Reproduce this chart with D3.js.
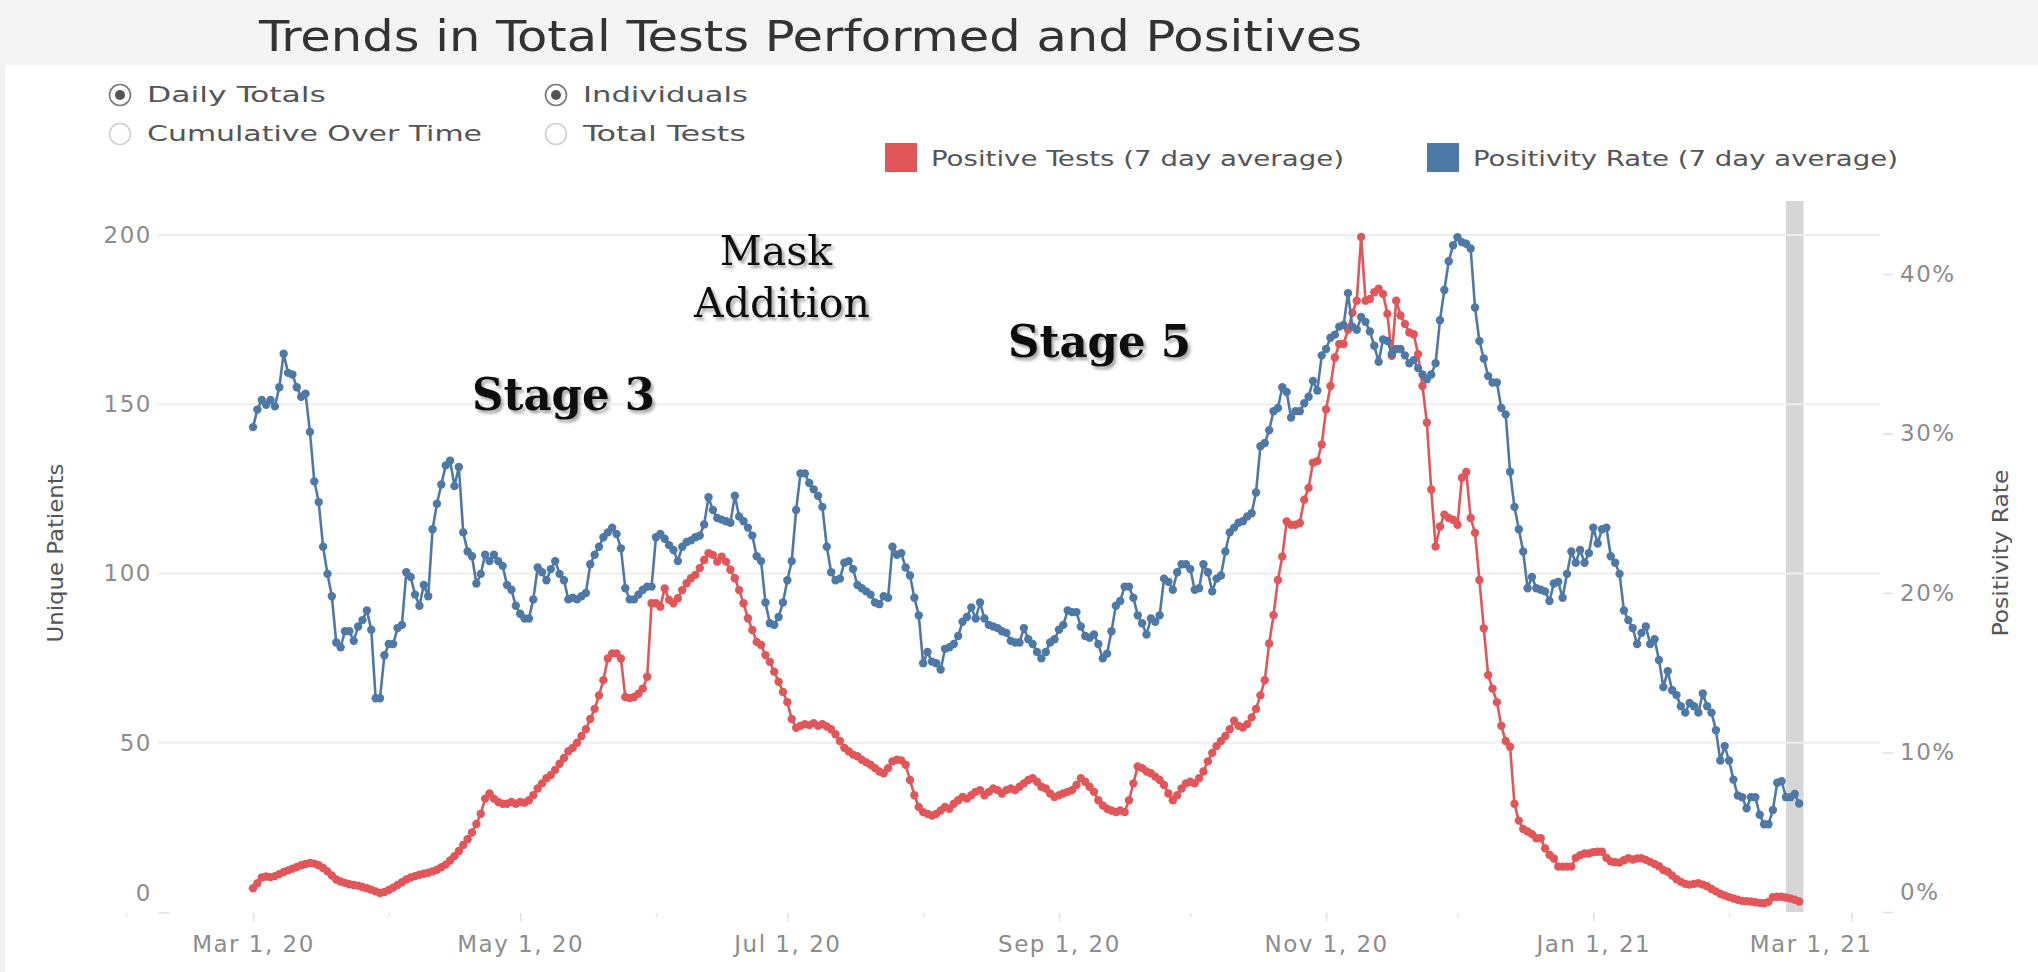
<!DOCTYPE html>
<html>
<head>
<meta charset="utf-8">
<script src="https://cdn.jsdelivr.net/npm/d3@7"></script>
<style>
  body { margin: 0; background: #fff; }
  svg { display: block; }
</style>
</head>
<body>
<div class="chart"></div>
<script>
var svgWidth = 2038;
var svgHeight = 972;

// ---- data ----
var chartTitle = "Trends in Total Tests Performed and Positives";
var startDate = "2020-03-01";

// Positive Tests (7 day average), unique patients per day
var positiveTests = [
  7.0, 8.5, 10.2, 10.5, 10.3, 10.6, 11.2, 11.8, 12.3, 12.8, 13.3, 13.8, 14.2, 14.5, 14.3, 13.8, 13.0, 12.0, 10.8, 9.6,
  9.0, 8.6, 8.2, 8.0, 7.8, 7.4, 7.0, 6.6, 6.1, 5.6, 5.9, 6.5, 7.2, 8.0, 8.8, 9.6,
  10.2, 10.6, 11.0, 11.3, 11.6, 12.0, 12.5, 13.2, 14.0, 15.2, 16.5, 18.0, 19.8, 21.5, 23.5, 26.0, 29.0, 33.5, 35.0, 33.5,
  32.5, 32.0, 32.0, 32.5, 32.0, 32.5, 32.3, 33.0, 34.5, 36.5, 38.0, 39.5, 40.5, 42.0, 43.8, 45.5, 47.5, 48.5, 50.0, 52.0,
  54.0, 57.0, 60.0, 64.0,
  68.5, 74.9, 76.4, 76.4, 74.9, 63.5, 63.2, 63.5, 64.5, 66.0, 69.5,
  91.2, 91.2, 90.2, 95.6, 92.2, 91.2, 92.7, 95.1, 97.1, 98.6, 99.6, 101.6, 104.0, 106.0, 105.5, 103.5, 105.0, 103.5, 101.1, 98.6,
  95.1, 91.2, 86.8, 83.3, 79.8, 78.9, 75.9, 73.9, 71.0, 68.0,
  65.0, 62.0, 57.0, 54.4, 55.0, 55.5, 55.2, 55.8, 55.0, 55.5, 54.8, 54.0, 52.5, 50.5, 48.5, 47.5, 46.5, 46.0, 45.0, 44.2,
  43.5, 42.5, 41.5, 41.0, 42.5, 44.5, 45.0, 44.8, 43.5, 39.0, 34.5, 31.0, 29.5, 29.0, 28.5, 29.0, 30.0, 31.0, 30.5, 32.0,
  33.0, 34.0, 33.5, 34.5, 35.5, 36.0, 34.5, 35.5, 36.5, 36.0, 35.0, 36.0, 36.5, 36.0, 37.0, 38.0, 39.0, 39.5, 38.5, 37.0,
  36.5, 35.0, 34.0, 34.5, 35.0, 35.5, 36.0, 37.5, 39.5, 38.5, 37.0, 35.5, 33.0, 31.5, 30.5, 30.0, 29.5, 30.0, 29.5, 33.0,
  38.0, 43.0, 42.5, 41.5, 41.0, 40.0, 39.0, 37.5, 35.0, 33.0, 34.5, 36.5, 38.0, 38.5, 38.0, 39.5, 41.5, 44.5, 47.0, 49.0,
  50.5, 52.0, 54.0, 56.5, 55.0, 54.5, 55.5, 57.5, 60.0, 64.0,
  68.5, 79.3, 87.7, 98.1, 105.0, 115.4, 114.4, 114.4, 114.9, 121.8, 125.3, 132.7, 133.2, 138.1, 148.5, 155.4, 163.8, 167.8, 167.8, 172.0,
  177.0, 180.6, 199.4, 180.6, 181.1, 183.1, 184.1, 182.6, 176.7, 164.3, 180.6, 176.2, 173.7, 171.2, 170.7, 164.8, 155.4, 144.6, 124.8, 108.0,
  113.9, 117.4, 116.4, 115.9, 114.4, 128.3, 130.0, 116.4, 112.0, 98.1, 83.8, 70.0,
  66.0, 62.0, 55.0, 50.5, 48.8, 32.0, 27.0, 24.5, 23.8, 23.0, 21.8, 21.8, 18.8, 16.9, 15.8, 13.4, 13.4, 13.4, 13.4, 16.0,
  16.8, 17.3, 17.3, 17.7, 17.8, 17.8, 16.0, 14.9, 14.7, 14.6, 15.3, 15.9, 15.5, 15.8, 15.9, 15.4, 14.8, 14.2, 13.5, 12.4,
  11.9, 10.8, 9.7, 8.9, 8.3, 8.1, 8.3, 8.5, 8.1, 7.6, 6.8, 6.1, 5.4, 4.9, 4.4, 4.0, 3.6, 3.3, 3.2, 3.1,
  2.9, 2.7, 2.6, 3.0, 4.4, 4.5, 4.5, 4.3, 4.0, 3.6, 3.1
];

// Positivity Rate (7 day average), percent
var positivityRate = [
  30.4, 31.5, 32.1, 31.8, 32.1, 31.7, 32.9, 35.0, 33.8, 33.7, 32.9, 32.3, 32.5, 30.1, 27.0, 25.7, 22.9, 21.2, 19.8, 16.9,
  16.6, 17.6, 17.6, 17.0, 17.9, 18.3, 18.9, 17.7, 13.4, 13.4, 16.1, 16.8, 16.8, 17.8, 18.0, 21.3, 21.0, 19.9, 19.2, 20.5,
  19.8, 24.0, 25.6, 26.8, 28.0, 28.3, 26.7, 27.9, 23.8, 22.6, 22.3, 20.6, 21.2, 22.4, 22.0, 22.4, 22.0, 21.7, 20.5, 20.2,
  19.2, 18.7, 18.4, 18.4, 19.6, 21.6, 21.3, 20.8, 21.5, 22.0, 21.2, 20.8, 19.6, 19.7, 19.6, 19.8, 20.0, 21.8, 22.4, 22.9,
  23.5, 23.8, 24.1, 23.7, 22.8, 20.3, 19.6, 19.6, 19.9, 20.2, 20.4, 20.4, 23.5, 23.7, 23.4, 23.0, 22.7, 22.0, 22.9, 23.2,
  23.3, 23.5, 23.6, 24.3, 26.0, 25.2, 24.7, 24.6, 24.5, 24.4, 26.1, 24.8, 24.5, 24.1, 23.6, 22.3, 22.0, 19.4, 18.1, 18.0,
  18.5, 19.4, 20.8, 22.0, 25.2, 27.5, 27.5, 26.9, 26.5, 26.1, 25.4, 22.9, 21.3, 20.8, 20.9, 21.9, 22.0, 21.5, 20.5, 20.3,
  20.1, 19.9, 19.4, 19.3, 19.8, 19.7,
  22.9, 22.4, 22.5, 21.6, 21.1, 19.7, 18.6, 15.6, 16.3, 15.7, 15.6, 15.2, 16.5, 16.6, 16.8, 17.3, 18.2, 18.5, 19.1, 18.4,
  19.4, 18.4, 18.0, 17.9, 17.8, 17.6, 17.5, 17.0, 16.9, 16.9, 17.8, 17.1, 16.8, 16.3, 15.9, 16.3, 16.9, 17.1, 17.7, 18.0,
  18.9, 18.8, 18.8, 17.9, 17.3, 17.2, 17.4, 16.8, 15.9, 16.2, 17.6, 19.2, 19.5, 20.4, 20.4, 19.7, 18.6, 18.1, 17.4, 18.4,
  18.2, 18.6, 20.9, 20.7, 20.2, 21.3, 21.8, 21.8, 21.5, 20.2, 20.3, 21.8, 21.3, 20.1, 20.9, 21.1, 22.6, 23.8, 24.1, 24.4,
  24.5, 24.8, 25.0, 26.3, 29.2, 29.4, 30.2, 31.4, 31.6, 32.9, 32.6, 31.0, 31.4, 31.4, 31.9, 32.3, 33.3, 32.7, 34.9, 35.3,
  36.0, 36.2, 36.7, 36.8, 38.8, 36.7, 36.5, 37.3, 37.0, 36.4, 35.5, 34.5, 35.9, 35.8, 35.0, 35.3, 35.3, 34.9, 34.4, 34.6,
  34.1, 33.7, 33.4, 33.7, 34.4, 37.1, 39.0, 40.8, 41.8, 42.3, 42.0, 41.9, 41.6, 37.9, 35.8, 34.7, 33.6, 33.2, 33.2, 31.6,
  31.2, 27.6, 25.4,
  24.0, 22.6, 20.3, 21.0, 20.3, 20.2, 20.1, 19.5, 20.6, 20.7, 19.7, 21.2, 22.6, 21.9, 22.7, 21.9, 22.5, 24.1, 23.1, 24.0,
  24.1, 22.3, 21.9, 21.2, 18.9, 18.3, 17.8, 16.8, 17.5, 17.9, 16.8, 17.1, 15.8, 14.1, 15.1, 13.9, 13.6, 12.9, 12.5, 13.1,
  12.9, 12.5, 13.7, 12.9, 12.5, 11.4, 9.5, 10.4, 9.5, 8.3, 7.3, 7.2, 6.5, 7.2, 7.2, 6.1, 5.5, 5.5, 6.4, 8.1,
  8.2, 7.2, 7.2, 7.4, 6.8
];

var leftTicks = [0, 50, 100, 150, 200];
var rightTicks = [0, 10, 20, 30, 40];
var xTickDates = ["2020-03-01", "2020-05-01", "2020-07-01", "2020-09-01", "2020-11-01", "2021-01-01", "2021-03-01"];
var shadedDates = ["2021-02-14", "2021-02-18"];
var legendLabels = ["Positive Tests (7 day average)", "Positivity Rate (7 day average)"];
var radioLabels = [["Daily Totals", "Cumulative Over Time"], ["Individuals", "Total Tests"]];
var radioChecked = [0, 0];
var leftAxisTitle = "Unique Patients";
var rightAxisTitle = "Positivity Rate";

// ---- layout ----
var pane = { left: 158, right: 1880, top: 201, bottom: 912 };
var red = "#e15759";
var blue = "#4e79a7";
var narrow = "'Liberation Sans Narrow','DejaVu Sans Condensed','Open Sans',sans-serif";
var axisFont = "'DejaVu Sans',Verdana,sans-serif";
var serif = "'DejaVu Serif',serif";

var parseDate = d3.utcParse("%Y-%m-%d");
var start = parseDate(startDate);
var dates = positiveTests.map(function(d, i) { return d3.utcDay.offset(start, i); });

var svg = d3.select(".chart")
  .append("svg")
  .attr("width", svgWidth)
  .attr("height", svgHeight);

var defs = svg.append("defs");
defs.append("filter")
  .attr("id", "shadow")
  .attr("x", "-10%").attr("y", "-20%")
  .attr("width", "130%").attr("height", "160%")
  .append("feDropShadow")
  .attr("dx", 2.5).attr("dy", 3)
  .attr("stdDeviation", 1.8)
  .attr("flood-color", "#000")
  .attr("flood-opacity", 0.35);

// title band and left margin strip
svg.append("rect").attr("x", 0).attr("y", 0).attr("width", svgWidth).attr("height", 65).attr("fill", "#f4f4f4");
svg.append("rect").attr("x", 0).attr("y", 65).attr("width", 5).attr("height", svgHeight - 65).attr("fill", "#f2f2f2");

svg.append("text")
  .attr("x", 259).attr("y", 51)
  .attr("font-family", narrow).attr("font-size", 42)
  .attr("fill", "#333")
  .attr("textLength", 1103).attr("lengthAdjust", "spacingAndGlyphs")
  .text(chartTitle);

// radio buttons
var radioX = [120, 556];
var radioY = [95, 134];
var radioTextLen = [[179, 335], [165, 163]];
radioLabels.forEach(function(group, g) {
  group.forEach(function(label, k) {
    var on = radioChecked[g] === k;
    svg.append("circle")
      .attr("cx", radioX[g]).attr("cy", radioY[k]).attr("r", 10.5)
      .attr("fill", "#fff")
      .attr("stroke", on ? "#777" : "#d0d0d0").attr("stroke-width", 1.6);
    if (on) {
      svg.append("circle")
        .attr("cx", radioX[g]).attr("cy", radioY[k]).attr("r", 5)
        .attr("fill", "#555");
    }
    svg.append("text")
      .attr("x", radioX[g] + 27).attr("y", radioY[k] + 7)
      .attr("font-family", narrow).attr("font-size", 22)
      .attr("fill", "#555")
      .attr("textLength", radioTextLen[g][k]).attr("lengthAdjust", "spacingAndGlyphs")
      .text(label);
  });
});

// legend
var legendX = [885, 1427];
var legendLen = [413, 425];
[red, blue].forEach(function(c, i) {
  svg.append("rect")
    .attr("x", legendX[i]).attr("y", 143)
    .attr("width", 32).attr("height", 29)
    .attr("fill", c);
  svg.append("text")
    .attr("x", legendX[i] + 46).attr("y", 166)
    .attr("font-family", narrow).attr("font-size", 22)
    .attr("fill", "#555")
    .attr("textLength", legendLen[i]).attr("lengthAdjust", "spacingAndGlyphs")
    .text(legendLabels[i]);
});

// scales
var x = d3.scaleUtc()
  .domain([parseDate("2020-03-01"), parseDate("2021-03-01")])
  .range([253, 1851.7]);

var yLeft = d3.scaleLinear().domain([0, 200]).range([pane.bottom, 235]);
var yRight = d3.scaleLinear().domain([0, 40]).range([pane.bottom, 274]);

// shaded most-recent band
svg.append("rect")
  .attr("x", x(parseDate(shadedDates[0])))
  .attr("y", pane.top)
  .attr("width", x(parseDate(shadedDates[1])) - x(parseDate(shadedDates[0])))
  .attr("height", pane.bottom - pane.top)
  .attr("fill", "#d6d6d6");

// gridlines
svg.append("g")
  .selectAll("line")
  .data(leftTicks.filter(function(d) { return d > 0; }))
  .enter().append("line")
  .attr("x1", pane.left).attr("x2", pane.right)
  .attr("y1", function(d) { return yLeft(d); })
  .attr("y2", function(d) { return yLeft(d); })
  .attr("stroke", "#eeeeee").attr("stroke-width", 2);

svg.append("line")
  .attr("x1", pane.left).attr("x2", pane.left + 12)
  .attr("y1", pane.bottom + 1).attr("y2", pane.bottom + 1)
  .attr("stroke", "#e2e2e2").attr("stroke-width", 1.5);

// left axis
var leftAxis = svg.append("g")
  .attr("transform", "translate(" + pane.left + ",0)")
  .call(d3.axisLeft(yLeft).tickValues(leftTicks).tickSize(0).tickPadding(6));
leftAxis.select(".domain").remove();
leftAxis.selectAll("text")
  .attr("font-family", axisFont).attr("font-size", 23)
  .attr("letter-spacing", 1.5)
  .attr("fill", "#8c8c8c")
  .attr("y", function(d) { return d === 0 ? -19 : 0; });

// right axis
var rightAxis = svg.append("g")
  .attr("transform", "translate(1883,0)")
  .call(d3.axisRight(yRight).tickValues(rightTicks).tickSize(10).tickPadding(7)
    .tickFormat(function(d) { return d + "%"; }));
rightAxis.select(".domain").remove();
rightAxis.selectAll("line").attr("stroke", "#e2e2e2").attr("stroke-width", 1.5);
rightAxis.selectAll("text")
  .attr("font-family", axisFont).attr("font-size", 23)
  .attr("letter-spacing", 1.5)
  .attr("fill", "#8c8c8c")
  .attr("y", function(d) { return d === 0 ? -20 : 0; });

// bottom axis: monthly minor ticks, labelled every two months
var minorAxis = svg.append("g")
  .attr("transform", "translate(0," + (pane.bottom + 1) + ")")
  .call(d3.axisBottom(x)
    .tickValues(d3.utcMonth.range(parseDate("2020-02-01"), parseDate("2021-03-02")))
    .tickSize(4).tickFormat(""));
minorAxis.select(".domain").remove();
minorAxis.selectAll("line").attr("stroke", "#e6e6e6").attr("stroke-width", 1.5);

var xAxis = svg.append("g")
  .attr("transform", "translate(0," + (pane.bottom + 1) + ")")
  .call(d3.axisBottom(x)
    .tickValues(xTickDates.map(parseDate))
    .tickSize(9).tickPadding(14)
    .tickFormat(d3.utcFormat("%b %-d, %y")));
xAxis.select(".domain").remove();
xAxis.selectAll("line").attr("stroke", "#e2e2e2").attr("stroke-width", 1.5);
xAxis.selectAll("text")
  .attr("font-family", axisFont).attr("font-size", 23)
  .attr("letter-spacing", 1.5)
  .attr("fill", "#8c8c8c");
// last label is pulled back inside the pane
xAxis.selectAll("text")
  .filter(function(d, i, n) { return i === n.length - 1; })
  .attr("text-anchor", "end")
  .attr("x", pane.right - 8 - x(parseDate(xTickDates[xTickDates.length - 1])));

// axis titles
svg.append("text")
  .attr("transform", "translate(63,553) rotate(-90)")
  .attr("text-anchor", "middle")
  .attr("font-family", narrow).attr("font-size", 22)
  .attr("fill", "#555")
  .attr("textLength", 179).attr("lengthAdjust", "spacingAndGlyphs")
  .text(leftAxisTitle);

svg.append("text")
  .attr("transform", "translate(2008,553) rotate(-90)")
  .attr("text-anchor", "middle")
  .attr("font-family", narrow).attr("font-size", 22)
  .attr("fill", "#555")
  .attr("textLength", 167).attr("lengthAdjust", "spacingAndGlyphs")
  .text(rightAxisTitle);

// series
var redLine = d3.line()
  .x(function(d, i) { return x(dates[i]); })
  .y(function(d) { return yLeft(d); });

var blueLine = d3.line()
  .x(function(d, i) { return x(dates[i]); })
  .y(function(d) { return yRight(d); });

function drawSeries(values, line, yScale, color) {
  var g = svg.append("g");
  g.append("path")
    .datum(values)
    .attr("d", line)
    .attr("fill", "none")
    .attr("stroke", color)
    .attr("stroke-width", 2.6)
    .attr("stroke-linejoin", "round");
  g.selectAll("circle")
    .data(values)
    .enter().append("circle")
    .attr("cx", function(d, i) { return x(dates[i]); })
    .attr("cy", function(d) { return yScale(d); })
    .attr("r", 4.2)
    .attr("fill", color);
}

drawSeries(positiveTests, redLine, yLeft, red);
drawSeries(positivityRate, blueLine, yRight, blue);

// annotations
var notes = svg.append("g").attr("filter", "url(#shadow)").attr("fill", "#111");
notes.append("text")
  .attr("x", 776).attr("y", 265)
  .attr("text-anchor", "middle")
  .attr("font-family", serif).attr("font-size", 41)
  .text("Mask");
notes.append("text")
  .attr("x", 782).attr("y", 317)
  .attr("text-anchor", "middle")
  .attr("font-family", serif).attr("font-size", 41)
  .text("Addition");
notes.append("text")
  .attr("x", 472).attr("y", 410)
  .attr("font-family", serif).attr("font-size", 44).attr("font-weight", "bold")
  .attr("textLength", 183).attr("lengthAdjust", "spacingAndGlyphs")
  .text("Stage 3");
notes.append("text")
  .attr("x", 1008).attr("y", 357)
  .attr("font-family", serif).attr("font-size", 44).attr("font-weight", "bold")
  .attr("textLength", 183).attr("lengthAdjust", "spacingAndGlyphs")
  .text("Stage 5");
</script>
</body>
</html>
